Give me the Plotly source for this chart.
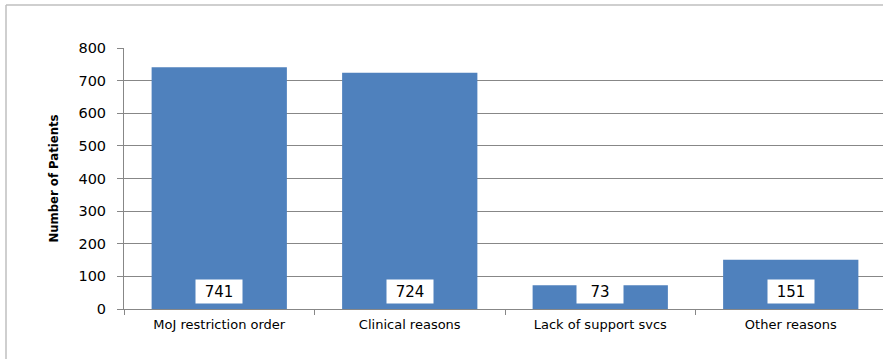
import plotly.graph_objects as go

categories = ["MoJ restriction order", "Clinical reasons", "Lack of support svcs", "Other reasons"]
patients = [741, 724, 73, 151]
y_ticks = [0, 100, 200, 300, 400, 500, 600, 700, 800]

W, H = 883, 359
L, R, T, B = 124, 0, 48, 50
pw = W - L - R
ph = H - T - B

fig = go.Figure()
fig.add_trace(go.Bar(
    x=categories, y=patients,
    marker=dict(color="#4F81BD", line=dict(width=0)),
    width=0.71,
    hoverinfo="x+y",
))

for c, v in zip(categories, patients):
    fig.add_annotation(
        x=c, y=0, xref="x", yref="y",
        text=str(v), showarrow=False,
        yanchor="bottom", yshift=5,
        width=44, height=21, bgcolor="white",
        font=dict(family="DejaVu Sans", size=15, color="black"),
    )

grid = "#878787"
fig.update_layout(
    width=W, height=H,
    margin=dict(l=L, r=R, t=T, b=B),
    paper_bgcolor="white", plot_bgcolor="white",
    showlegend=False,
    bargap=0.29,
    xaxis=dict(
        type="category", range=[-0.5, 3.5 - 3 / 190.5],
        tickson="boundaries", ticks="outside", ticklen=5, tickcolor=grid,
        showline=True, linecolor=grid, linewidth=1,
        showgrid=False,
        ticklabelstandoff=3,
        tickfont=dict(family="DejaVu Sans", size=13, color="black"),
    ),
    yaxis=dict(
        range=[0, 800], tickvals=y_ticks,
        ticks="outside", ticklen=6, tickcolor=grid,
        showline=True, linecolor=grid, linewidth=1,
        showgrid=True, gridcolor=grid, gridwidth=1,
        zeroline=False,
        ticklabelstandoff=8,
        tickfont=dict(family="DejaVu Sans", size=14.5, color="black"),
        title=dict(text="<b>Number of Patients</b>", standoff=16,
                   font=dict(family="Liberation Sans Narrow, DejaVu Sans Condensed", size=13, color="black")),
    ),
)

# outer chart frame (left and top edges visible)
x0 = (6 - L) / pw
y1 = (H - B - 5) / ph
fig.add_shape(type="line", xref="paper", yref="paper", x0=x0, x1=x0, y0=-1, y1=y1,
              line=dict(color="#BFBFBF", width=1.5))
fig.add_shape(type="line", xref="paper", yref="paper", x0=x0, x1=1.2, y0=y1, y1=y1,
              line=dict(color="#BFBFBF", width=1.5))

fig.write_html("out.html")
